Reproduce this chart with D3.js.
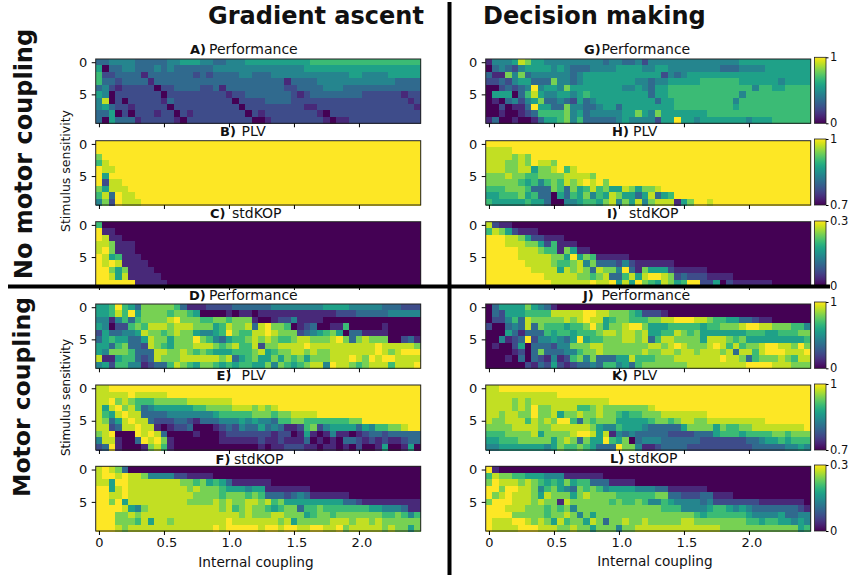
<!DOCTYPE html>
<html>
<head>
<meta charset="utf-8">
<script src="https://d3js.org/d3.v7.min.js"></script>
<style>
	html, body { margin: 0; padding: 0; background: #fff; }
	svg { display: block; }
	text { font-family: "DejaVu Sans", sans-serif; fill: #111; }
	.cells { filter: blur(0.55px); }
</style>
</head>
<body>
<svg id="chart" width="850" height="577"></svg>
<script>
// each digit is a colour level, 0 = bottom of the colorbar, 9 = top
var perfA = [
	"3344443333 3445554433 4445555555 5556666666 6666666666",
	"5033443334 3433333344 4444444444 4455555555 5555555555",
	"6223333133 3333323233 3344333444 4444444445 5444455555",
	"6332333313 3333333333 3333333331 3333444444 4444443333",
	"3421222220 2233332231 3333333332 2333344433 3333333333",
	"5402222222 0222222222 1223333333 2123333333 3222222122",
	"4802022222 1322222222 2022223333 2222222222 2222222212",
	"4532212222 2022222222 2202222222 2211222222 2222222221",
	"3350202221 2202122222 2220212222 2222102222 2222222222",
	"3053331222 2210222222 2222001222 2222210112 2222222222"
];
var plvB = [
	"9999999999 9999999999 9999999999 9999999999 9999999999",
	"9999999999 9999999999 9999999999 9999999999 9999999999",
	"7999999999 9999999999 9999999999 9999999999 9999999999",
	"6899999999 9999999999 9999999999 9999999999 9999999999",
	"9889999999 9999999999 9999999999 9999999999 9999999999",
	"9599999999 9999999999 9999999999 9999999999 9999999999",
	"9288999999 9999999999 9999999999 9999999999 9999999999",
	"7588899999 9999999999 9999999999 9999999999 9999999999",
	"6839889999 9999999999 9999999999 9999999999 9999999999",
	"4729888999 9999999999 9999999999 9999999999 9999999999"
];
var kopC = [
	"6000000000 0000000000 0000000000 0000000000 0000000000",
	"9110000000 0000000000 0000000000 0000000000 0000000000",
	"9811000000 0000000000 0000000000 0000000000 0000000000",
	"8871110000 0000000000 0000000000 0000000000 0000000000",
	"8971110000 0000000000 0000000000 0000000000 0000000000",
	"9856111000 0000000000 0000000000 0000000000 0000000000",
	"9898111100 0000000000 0000000000 0000000000 0000000000",
	"9975711110 0000000000 0000000000 0000000000 0000000000",
	"9985811111 0000000000 0000000000 0000000000 0000000000",
	"9999991111 1000000000 0000000000 0000000000 0000000000"
];
var perfD = [
	"5569653777 7763111222 2333333444 4444455554 4444333222",
	"5568695777 7677650000 1011011111 1111111222 3333344444",
	"4414636777 7897776677 6777100122 4111100000 0000000000",
	"5402267688 8788877756 8778389776 0123001160 0000100000",
	"2533445877 6787754456 9766889877 7234567503 3111100000",
	"3565533587 7577797643 5667878766 7887778973 7877700231",
	"5536733287 6577788876 7866827788 8898888888 8889888887",
	"5477763338 8778767655 5666785677 8878778888 8889878999",
	"8115663238 7778888887 8356755757 6757778889 8798998888",
	"4526644123 3687657765 6566557476 5678849887 6788868889"
];
var plvE = [
	"8899999999 9999999999 9999999999 9999999999 9999999999",
	"8888898888 8999999999 9999999999 9999999999 9999999999",
	"8897876667 7777888888 8999999999 9999999999 9999999999",
	"8589786345 5555566777 7888787899 9999999999 9999999999",
	"8658988333 3444444456 6666777677 8888999999 9999999999",
	"8735898832 2233213334 4454544366 7766666667 7999999999",
	"8823889881 0122300012 3243353431 1267245555 3546677899",
	"7890009898 3000010001 2222222122 0151014110 1233233333",
	"4881003989 7100000001 1111121121 1130101033 2121211233",
	"2391000178 6100000000 0000010112 2211011010 2001500150"
];
var kopF = [
	"8987300000 0000000000 0000000000 0000000000 0000000000",
	"8998988744 4422111100 0000000000 0000000000 0000000000",
	"8859988888 8887767565 3111111000 0000000000 0000000000",
	"9958988888 8888787776 5554551111 1110000000 0000000000",
	"9988988888 8888877776 7776763332 3431111110 0000000000",
	"9979588888 8888777787 8778878675 5555555533 2111111111",
	"9999854788 8888888887 8678776567 7366766666 6655444311",
	"9997787888 8888888888 8878777887 7756776777 7777667646",
	"9997776858 8788888888 9888888878 5777778887 8878777777",
	"9998788888 8888888898 9999989989 9889988978 8888787757"
];
var perfG = [
	"1444587554 4444444434 4334244444 4444444445 5555555555",
	"0343245555 4543334444 5555445544 4444443334 4445555555",
	"3117473444 4443455555 5555555243 4555555555 5555555555",
	"2232455333 7443455555 5554434455 5556666665 5555545555",
	"0023234945 5475555555 5445435566 6666666666 6466556666",
	"0555036854 4554565555 5555535566 6666666664 6666666666",
	"0103424573 3432534555 5555553556 6666666646 6666666666",
	"0020113955 3374433455 3555555556 6666666656 6666666666",
	"0010012366 6674534444 4557547555 5555666666 6666666666",
	"1300100135 5674633333 4544442559 5545555555 4555666666"
];
var plvH = [
	"9999999999 9999999999 9999999999 9999999999 9999999999",
	"8888999999 9999999999 9999999999 9999999999 9999999999",
	"8888787999 9999999999 9999999999 9999999999 9999999999",
	"8887787988 7999999999 9999999999 9999999999 9999999999",
	"8887788577 8968999999 9999999999 9999999999 9999999999",
	"7778776677 7788887999 9999999999 9999999999 9999999999",
	"7777765646 7687898979 9999999999 9999999999 9999999999",
	"6667776333 7637568675 5875778999 9999999999 9999999999",
	"5566675633 0536574658 7553583569 9999999999 9999999999",
	"6555556553 0044566578 4758478881 5799899999 9999999999"
];
var kopI = [
	"8211000000 0000000000 0000000000 0000000000 0000000000",
	"6875211100 0000000000 0000000000 0000000000 0000000000",
	"9998875221 1100000000 0000000000 0000000000 0000000000",
	"9998887752 6111000000 0000000000 0000000000 0000000000",
	"9999988876 6175110000 0000000000 0000000000 0000000000",
	"9999988888 7759576111 1100000000 0000000000 0000000000",
	"9999998888 7667847333 2421111110 0000000000 0000000000",
	"9999999888 8587873877 4931755521 1111000000 0000000000",
	"9999999998 8888776783 3685899872 3222111100 0000000000",
	"9999999999 8888889889 5859765875 6992250211 1111000000"
];
var perfJ = [
	"0355557543 1000000000 0000000000 0000000000 0000000000",
	"0325556666 8888899887 7765222100 0000000000 0000000000",
	"0224638777 7787898856 7766677889 9988766553 3211000000",
	"2003438376 6656679757 7899755566 6665667778 9988777664",
	"0005313336 5665666788 7887855668 7675555555 6665566677",
	"0041239244 5435956677 7887836887 7775888767 5555555556",
	"0100250333 2447778877 7777788789 8777898686 7789988797",
	"0000120373 3344677877 7777877887 8878887838 8689998889",
	"0001030321 4126747333 5586667778 8888889887 3677787688",
	"0000002132 5212334366 4536777777 7888888888 9999888777"
];
var plvK = [
	"8899999999 9999999999 9999999999 9999999999 9999999999",
	"8888888888 8999999999 9999999999 9999999999 9999999999",
	"8888787888 8888888889 9999999999 9999999999 9999999999",
	"8888787977 8888667877 7777789999 9999999999 9999999999",
	"8878877977 8577877877 6566777888 8888999999 9999999999",
	"8778886878 7996376777 5555567767 8877888888 8889999999",
	"7777888877 8888887544 6555433333 5777757667 7888888889",
	"6667777857 7778998581 4343333322 2233356665 6666776777",
	"5566677777 5787375596 5703444333 3332222222 3345565666",
	"4455555554 5766765333 9774112333 3222222222 2333334454"
];
var kopL = [
	"9100000000 0000000000 0000000000 0000000000 0000000000",
	"6877665554 4411111100 0000000000 0000000000 0000000000",
	"7988878765 6575663331 1110000000 0000000000 0000000000",
	"9979988746 7543767645 5554443311 1111000000 0000000000",
	"9789888758 7775787777 6666667733 2223311100 0000000000",
	"7999888787 7187777776 7667644654 4443422222 2211111110",
	"9998887776 7674777777 7777777666 4444566545 4333333321",
	"9999777776 7787475777 7777777777 7765666666 5444453344",
	"9888998787 5867758737 7877877777 8877777777 6656655454",
	"9888899988 8778775777 4778888888 8888887777 7777777756"
];

var couplings = d3.range(50).map(function(d) { return d * 0.05; });
var sensitivities = d3.range(10);
var xTickValues = [0, 0.5, 1.0, 1.5, 2.0];
var xTickLabels = ["0", "0.5", "1.0", "1.5", "2.0"];
var yTickValues = [0, 5];

var perfRange = [0, 1];
var plvRange = [0.7, 1];
var kopRange = [0, 0.3];

var leftX = 95.7, rightX = 485.7, panelW = 325;
var svg = d3.select("#chart");

var panels = [
	{ data: perfA, r: perfRange, x: leftX, top: 59, bottom: 123.3, letter: "A)", word: "Performance", lx: 190, wx: 209, by: 53.5 },
	{ data: plvB, r: plvRange, x: leftX, top: 140.7, bottom: 205, letter: "B)", word: "PLV", lx: 220, wx: 241.5, by: 136 },
	{ data: kopC, r: kopRange, x: leftX, top: 221.7, bottom: 286, letter: "C)", word: "stdKOP", lx: 210, wx: 232, by: 218 },
	{ data: perfD, r: perfRange, x: leftX, top: 304, bottom: 368.3, letter: "D)", word: "Performance", lx: 189, wx: 209, by: 300 },
	{ data: plvE, r: plvRange, x: leftX, top: 385, bottom: 450, letter: "E)", word: "PLV", lx: 216.5, wx: 241.5, by: 380 },
	{ data: kopF, r: kopRange, x: leftX, top: 466.3, bottom: 531, letter: "F)", word: "stdKOP", lx: 215.5, wx: 234, by: 464, labels: true },
	{ data: perfG, r: perfRange, x: rightX, top: 59, bottom: 123.3, letter: "G)", word: "Performance", lx: 584, wx: 601.5, by: 53.5, barTop: 57.3 },
	{ data: plvH, r: plvRange, x: rightX, top: 140.7, bottom: 205, letter: "H)", word: "PLV", lx: 612, wx: 633, by: 136, barTop: 139 },
	{ data: kopI, r: kopRange, x: rightX, top: 221.7, bottom: 286, letter: "I)", word: "stdKOP", lx: 607, wx: 629, by: 218, barTop: 221 },
	{ data: perfJ, r: perfRange, x: rightX, top: 304, bottom: 368.3, letter: "J)", word: "Performance", lx: 583, wx: 601.5, by: 300, barTop: 302 },
	{ data: plvK, r: plvRange, x: rightX, top: 385, bottom: 450, letter: "K)", word: "PLV", lx: 612, wx: 633, by: 380, barTop: 384 },
	{ data: kopL, r: kopRange, x: rightX, top: 466.3, bottom: 531, letter: "L)", word: "stdKOP", lx: 610, wx: 628, by: 463, barTop: 465, labels: true }
];

// gradient shared by the colorbars
var grad = svg.append("defs").append("linearGradient")
	.attr("id", "viridisBar")
	.attr("x1", 0).attr("x2", 0).attr("y1", 1).attr("y2", 0);
d3.range(0, 1.001, 0.05).forEach(function(t) {
	grad.append("stop").attr("offset", t).attr("stop-color", d3.interpolateViridis(t));
});

panels.forEach(function(p, idx) {
	var g = svg.append("g");
	var cells = g.append("g").attr("class", "cells");

	var xCell = d3.scaleBand().domain(couplings).range([p.x, p.x + panelW]);
	var yCell = d3.scaleBand().domain(sensitivities).range([p.top, p.bottom]);
	var xAxisScale = d3.scaleLinear().domain([-0.025, 2.475]).range([p.x, p.x + panelW]);
	var yAxisScale = d3.scaleLinear().domain([-0.5, 9.5]).range([p.top, p.bottom]);
	// level 8 sits a bit higher than an even split, the yellow greens read that way
	var level = d3.scaleLinear().domain([0, 8, 9]).range([p.r[0], p.r[0] + 0.91 * (p.r[1] - p.r[0]), p.r[1]]);
	var color = d3.scaleSequential(d3.interpolateViridis).domain(p.r);

	// rows of digits -> real values
	var values = p.data.map(function(row) {
		return row.replace(/ /g, "").split("").map(function(c) { return level(+c); });
	});

	values.forEach(function(row, j) {
		cells.selectAll(null)
			.data(row)
			.enter()
			.append("rect")
			.attr("x", function(d, i) { return xCell(couplings[i]); })
			.attr("y", yCell(sensitivities[j]))
			.attr("width", xCell.bandwidth() + 0.5)
			.attr("height", yCell.bandwidth() + 0.5)
			.attr("shape-rendering", "crispEdges")
			.attr("fill", function(d) { return color(d); });
	});

	g.append("rect")
		.attr("x", p.x).attr("y", p.top)
		.attr("width", panelW).attr("height", p.bottom - p.top)
		.attr("fill", "none").attr("stroke", "#222").attr("stroke-width", 1);

	var xAxis = d3.axisBottom(xAxisScale)
		.tickValues(xTickValues)
		.tickSizeOuter(0)
		.tickSize(4)
		.tickPadding(3)
		.tickFormat(function(d, i) { return p.labels ? xTickLabels[i] : ""; });
	var xg = g.append("g").attr("transform", "translate(0," + p.bottom + ")").call(xAxis);
	xg.select(".domain").remove();
	xg.selectAll("text").attr("font-size", 13).attr("dx", function(d) { return d === 0 ? 0 : 2.5; });

	var yAxis = d3.axisLeft(yAxisScale)
		.tickValues(yTickValues)
		.tickSizeOuter(0)
		.tickSize(4)
		.tickPadding(4.5);
	var yg = g.append("g").attr("transform", "translate(" + p.x + ",0)").call(yAxis);
	yg.select(".domain").remove();
	yg.selectAll("text").attr("font-size", 13);

	g.append("text").attr("x", p.lx).attr("y", p.by)
		.attr("font-size", 13).attr("font-weight", "bold").text(p.letter);
	g.append("text").attr("x", p.wx).attr("y", p.by)
		.attr("font-size", 14).text(p.word);

	if (p.barTop !== undefined) {
		var barScale = d3.scaleLinear().domain(p.r).range([p.bottom, p.barTop]);
		g.append("rect")
			.attr("x", 814.5).attr("y", p.barTop)
			.attr("width", 11.5).attr("height", p.bottom - p.barTop)
			.attr("fill", "url(#viridisBar)")
			.attr("stroke", "#222").attr("stroke-width", 0.8);
		var barAxis = d3.axisRight(barScale)
			.tickValues(p.r)
			.tickSize(2.5)
			.tickPadding(1.5)
			.tickFormat(function(d) { return String(d); });
		var bg = g.append("g").attr("transform", "translate(826,0)").call(barAxis);
		bg.select(".domain").remove();
		bg.selectAll("text").attr("font-size", 11.5);
	}
});

// axis titles
function rotated(x, y, txt, size, weight) {
	svg.append("text")
		.attr("transform", "translate(" + x + "," + y + ") rotate(-90)")
		.attr("text-anchor", "middle")
		.attr("font-size", size)
		.attr("font-weight", weight)
		.text(txt);
}
rotated(70, 171, "Stimulus sensitivity", 12.5, "normal");
rotated(69.5, 397.5, "Stimulus sensitivity", 12, "normal");
rotated(32, 154, "No motor coupling", 24, "bold");
rotated(30, 397, "Motor coupling", 23.5, "bold");

svg.append("text").attr("x", 256).attr("y", 567).attr("text-anchor", "middle").attr("font-size", 13.7).text("Internal coupling");
svg.append("text").attr("x", 655).attr("y", 566).attr("text-anchor", "middle").attr("font-size", 13.7).text("Internal coupling");

svg.append("text").attr("x", 208).attr("y", 24).attr("font-size", 24).attr("font-weight", "bold").text("Gradient ascent");
svg.append("text").attr("x", 483).attr("y", 24).attr("font-size", 24).attr("font-weight", "bold").text("Decision making");

// the cross between the four blocks
svg.append("rect").attr("x", 447.5).attr("y", 2).attr("width", 4).attr("height", 573).attr("fill", "#000");
svg.append("rect").attr("x", 8).attr("y", 284.5).attr("width", 822).attr("height", 4).attr("fill", "#000");
</script>
</body>
</html>
